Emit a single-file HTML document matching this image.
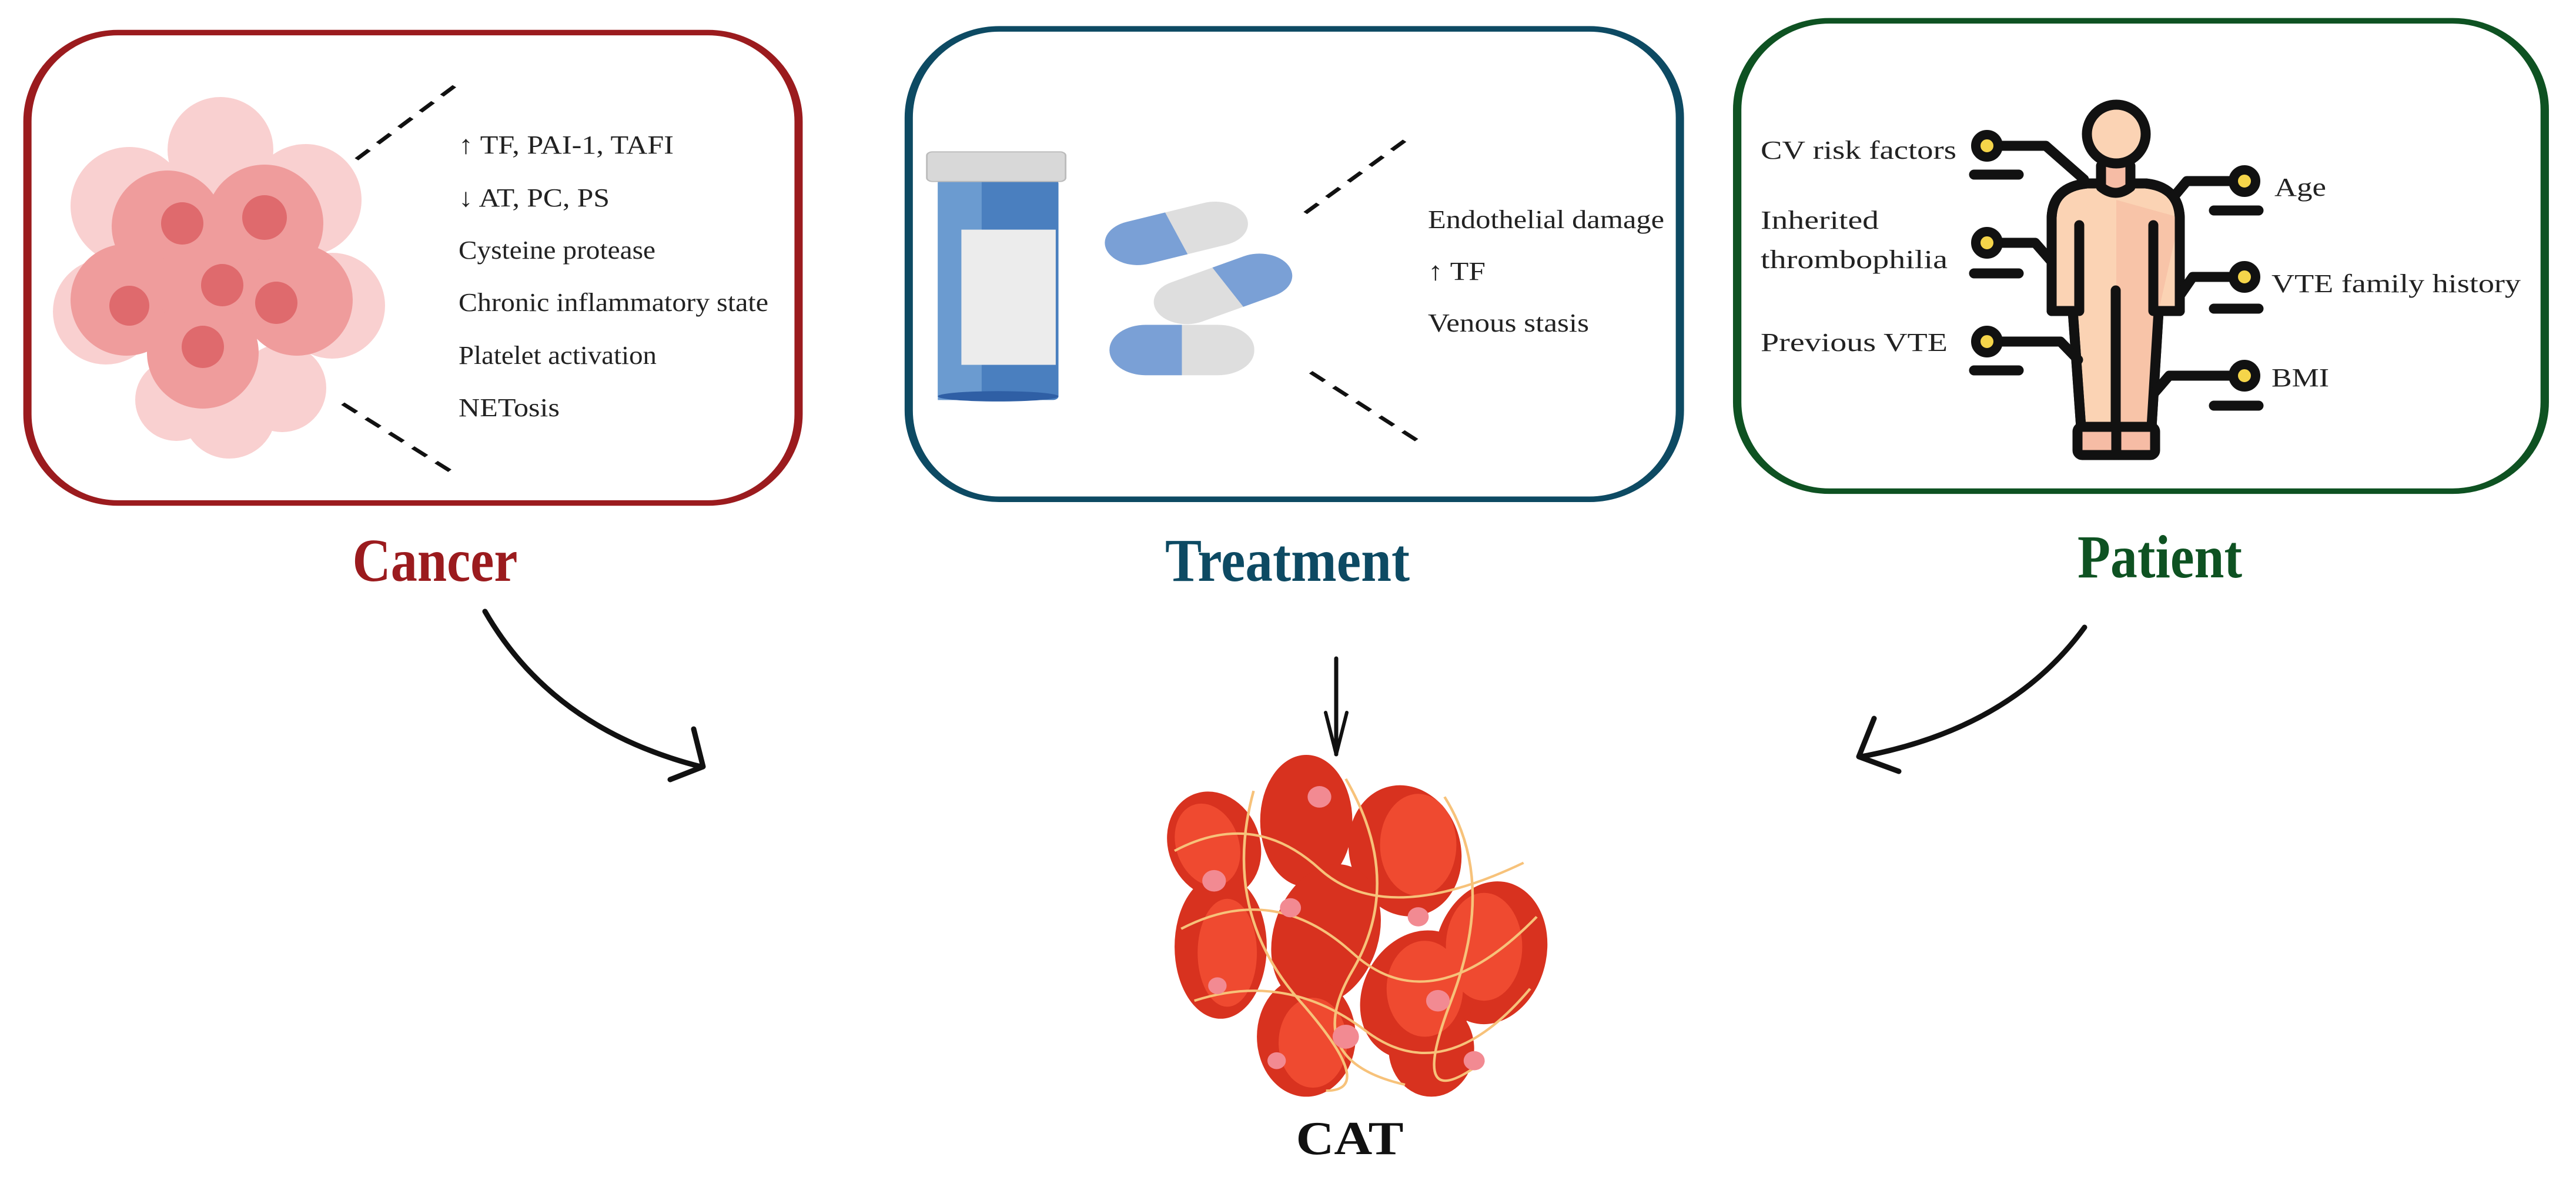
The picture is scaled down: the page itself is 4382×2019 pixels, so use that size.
<!DOCTYPE html>
<html><head><meta charset="utf-8"><style>
html,body{margin:0;padding:0;background:#fff}
svg{display:block}
text{font-family:"Liberation Serif",serif}
</style></head><body>
<svg width="4382" height="2019" viewBox="0 0 4382 2019" xmlns="http://www.w3.org/2000/svg">
<!-- CANCER cells (real coords) -->
<g>
<g fill="#f8c8c8" opacity="0.85">
<circle cx="220" cy="350" r="100"/><circle cx="520" cy="340" r="95"/><circle cx="375" cy="255" r="90"/>
<circle cx="565" cy="520" r="90"/><circle cx="390" cy="700" r="80"/><circle cx="180" cy="530" r="90"/>
<circle cx="300" cy="680" r="70"/><circle cx="480" cy="660" r="75"/>
</g>
<g fill="#ef9c9c">
<circle cx="285" cy="385" r="95"/><circle cx="450" cy="380" r="100"/><circle cx="215" cy="510" r="95"/>
<circle cx="375" cy="490" r="105"/><circle cx="505" cy="510" r="95"/><circle cx="345" cy="600" r="95"/>
</g>
<g fill="#df6a6d"><circle cx="310" cy="380" r="36"/><circle cx="450" cy="370" r="38"/><circle cx="378" cy="485" r="36"/><circle cx="470" cy="515" r="36"/><circle cx="220" cy="520" r="34"/><circle cx="345" cy="590" r="36"/></g>
</g>
<g transform="scale(0.933,0.63)">
<rect x="50" y="88" width="1406" height="1270" rx="165" ry="240" fill="none" stroke="#9b1b1e" stroke-width="15"/>
<g stroke="#111" stroke-width="9" stroke-dasharray="34,24"><line x1="650" y1="430" x2="840" y2="220"/><line x1="625" y1="1090" x2="830" y2="1280"/></g>
</g>
<g font-size="44" fill="#222">
<text x="780" y="261" textLength="366" lengthAdjust="spacingAndGlyphs">↑ TF, PAI-1, TAFI</text>
<text x="780" y="351" textLength="257" lengthAdjust="spacingAndGlyphs">↓ AT, PC, PS</text>
<text x="780" y="440" textLength="335" lengthAdjust="spacingAndGlyphs">Cysteine protease</text>
<text x="780" y="529" textLength="527" lengthAdjust="spacingAndGlyphs">Chronic inflammatory state</text>
<text x="780" y="619" textLength="337" lengthAdjust="spacingAndGlyphs">Platelet activation</text>
<text x="780" y="708" textLength="172" lengthAdjust="spacingAndGlyphs">NETosis</text>
</g>
<text x="740" y="988" font-size="104" font-weight="bold" fill="#9b1b1e" text-anchor="middle" textLength="281" lengthAdjust="spacingAndGlyphs">Cancer</text>
<!-- TREATMENT -->
<g transform="translate(1460,0) scale(0.933,0.63)">
<rect x="92" y="78" width="1406" height="1270" rx="165" ry="240" fill="none" stroke="#0d4a63" stroke-width="15"/>
<rect x="145" y="485" width="220" height="595" rx="10" fill="#4a7fbf"/>
<rect x="145" y="485" width="80" height="595" fill="#6b9bd0"/>
<ellipse cx="255" cy="1070" rx="110" ry="14" fill="#2f5fa5"/>
<rect x="125" y="410" width="253" height="80" rx="10" fill="#d8d8d8" stroke="#bbb" stroke-width="3"/>
<rect x="188" y="620" width="172" height="365" fill="#ececec"/>
<g transform="translate(580,630) rotate(-20)"><rect x="-135" y="-60" width="270" height="120" rx="60" fill="#dedede"/><path d="M0,-60 H-75 A60,60 0 0 0 -75,60 H0Z" fill="#7aa0d6"/></g>
<g transform="translate(665,780) rotate(-28)"><rect x="-135" y="-60" width="270" height="120" rx="60" fill="#dedede"/><path d="M10,-60 H75 A60,60 0 0 1 75,60 H10Z" fill="#7aa0d6"/></g>
<g transform="translate(590,945)"><rect x="-132" y="-68" width="264" height="136" rx="66" fill="#dedede"/><path d="M0,-68 H-66 A66,68 0 0 0 -66,68 H0Z" fill="#7aa0d6"/></g>
<g stroke="#111" stroke-width="9" stroke-dasharray="34,24"><line x1="815" y1="575" x2="1010" y2="365"/><line x1="825" y1="1005" x2="1025" y2="1195"/></g>
</g>
<g font-size="44" fill="#222">
<text x="2429" y="388" textLength="402" lengthAdjust="spacingAndGlyphs">Endothelial damage</text>
<text x="2429" y="476" textLength="98" lengthAdjust="spacingAndGlyphs">↑ TF</text>
<text x="2429" y="564" textLength="274" lengthAdjust="spacingAndGlyphs">Venous stasis</text>
</g>
<text x="2190" y="988" font-size="104" font-weight="bold" fill="#0d4a63" text-anchor="middle" textLength="416" lengthAdjust="spacingAndGlyphs">Treatment</text>
<!-- PATIENT -->
<g transform="translate(2900,0) scale(0.95,0.631)">
<rect x="58" y="56" width="1446" height="1268" rx="165" ry="240" fill="none" stroke="#0e5222" stroke-width="15"/>
</g>
<g stroke="#111" stroke-width="17" stroke-linecap="round" stroke-linejoin="round" fill="none">
<path d="M3490,529 L3490,370 Q3492,318 3550,312 L3650,312 Q3706,318 3708,370 L3708,529 L3672,529 L3660,726 L3540,726 L3526,529 Z" fill="#fbd3b4"/>
<path d="M3672,529 L3660,726 L3600,726 L3600,340 L3708,370Z" fill="#f8c4a8" stroke="none"/>
<path d="M3490,529 L3490,370 Q3492,318 3550,312 L3650,312 Q3706,318 3708,370 L3708,529 L3672,529 L3660,726 L3540,726 L3526,529 Z"/>
<path d="M3574,282 L3574,318 Q3599,338 3624,318 L3624,282" fill="#f6bca5"/>
<circle cx="3600" cy="228" r="50" fill="#fbd3b4"/>
<rect x="3534" y="726" width="132" height="48" rx="8" fill="#f6bca5"/>
<line x1="3600" y1="726" x2="3600" y2="774"/>
<line x1="3599" y1="494" x2="3599" y2="726"/>
<line x1="3537" y1="383" x2="3537" y2="529"/>
<line x1="3663" y1="383" x2="3663" y2="529"/>
<path d="M3380,248 H3480 L3545,305"/><path d="M3380,413 H3462 L3490,445"/><path d="M3380,581 H3505 L3535,612"/>
<path d="M3818,308 H3720 L3700,332"/><path d="M3818,471 H3730 L3710,500"/><path d="M3818,639 H3690 L3665,668"/>
<path d="M3358,297 H3434 M3358,465 H3434 M3358,630 H3434 M3766,358 H3842 M3766,525 H3842 M3766,690 H3842"/>
<g fill="#f5d54a" stroke-width="16"><circle cx="3380" cy="248" r="19"/><circle cx="3380" cy="413" r="19"/><circle cx="3380" cy="581" r="19"/><circle cx="3818" cy="308" r="19"/><circle cx="3818" cy="471" r="19"/><circle cx="3818" cy="639" r="19"/></g>
</g>
<g font-size="44" fill="#222">
<text x="2995" y="270" textLength="333" lengthAdjust="spacingAndGlyphs">CV risk factors</text>
<text x="3869" y="333" textLength="88" lengthAdjust="spacingAndGlyphs">Age</text>
<text x="2995" y="389" textLength="201" lengthAdjust="spacingAndGlyphs">Inherited</text>
<text x="2995" y="456" textLength="318" lengthAdjust="spacingAndGlyphs">thrombophilia</text>
<text x="3864" y="497" textLength="424" lengthAdjust="spacingAndGlyphs">VTE family history</text>
<text x="2995" y="597" textLength="318" lengthAdjust="spacingAndGlyphs">Previous VTE</text>
<text x="3864" y="657" textLength="98" lengthAdjust="spacingAndGlyphs">BMI</text>
</g>
<text x="3674" y="982" font-size="104" font-weight="bold" fill="#0e5222" text-anchor="middle" textLength="280" lengthAdjust="spacingAndGlyphs">Patient</text>
<!-- ARROWS -->
<g fill="none" stroke="#111" stroke-linecap="round">
<path d="M825,1040 Q940,1240 1192,1304" stroke-width="9"/>
<path d="M1196,1304 L1180,1240 M1196,1304 L1140,1326" stroke-width="9"/>
<path d="M2273,1120 L2273,1283" stroke-width="7"/>
<path d="M2273,1283 L2255,1212 M2273,1283 L2291,1212" stroke-width="6"/>
<path d="M3546,1067 Q3420,1240 3166,1287" stroke-width="9"/>
<path d="M3162,1287 L3188,1222 M3162,1287 L3230,1312" stroke-width="9"/>
</g>
<!-- CLOT -->
<g transform="translate(2296,1590) scale(1.12,1.02) translate(-2296,-1590)">
<g fill="#d8321f">
<ellipse cx="2090" cy="1440" rx="70" ry="90" transform="rotate(-15 2090 1440)"/>
<ellipse cx="2230" cy="1400" rx="70" ry="110"/>
<ellipse cx="2380" cy="1450" rx="85" ry="110" transform="rotate(-10 2380 1450)"/>
<ellipse cx="2100" cy="1610" rx="70" ry="120"/>
<ellipse cx="2260" cy="1590" rx="80" ry="120" transform="rotate(15 2260 1590)"/>
<ellipse cx="2510" cy="1620" rx="85" ry="120" transform="rotate(10 2510 1620)"/>
<ellipse cx="2400" cy="1690" rx="85" ry="110" transform="rotate(20 2400 1690)"/>
<ellipse cx="2230" cy="1760" rx="75" ry="100"/>
<ellipse cx="2420" cy="1780" rx="65" ry="80"/>
</g>
<g fill="#ef4a30">
<ellipse cx="2080" cy="1440" rx="48" ry="70" transform="rotate(-15 2080 1440)"/>
<ellipse cx="2400" cy="1440" rx="58" ry="85"/>
<ellipse cx="2500" cy="1610" rx="58" ry="90"/>
<ellipse cx="2110" cy="1620" rx="45" ry="90"/>
<ellipse cx="2240" cy="1770" rx="52" ry="75"/>
<ellipse cx="2410" cy="1680" rx="58" ry="80"/>
</g>
<g fill="none" stroke="#f7c27a" stroke-width="4">
<path d="M2030,1450 Q2150,1380 2250,1480 T2560,1470"/>
<path d="M2040,1580 Q2180,1500 2300,1620 T2580,1560"/>
<path d="M2060,1700 Q2200,1650 2320,1750 T2570,1680"/>
<path d="M2150,1350 Q2100,1550 2220,1700 T2260,1850"/>
<path d="M2290,1330 Q2380,1500 2300,1650 T2380,1840"/>
<path d="M2440,1360 Q2520,1500 2450,1700 T2500,1800"/>
</g>
<g fill="#f28a92"><circle cx="2250" cy="1360" r="18"/><circle cx="2090" cy="1500" r="18"/><circle cx="2206" cy="1545" r="16"/><circle cx="2400" cy="1560" r="16"/><circle cx="2095" cy="1675" r="14"/><circle cx="2430" cy="1700" r="18"/><circle cx="2290" cy="1760" r="20"/><circle cx="2185" cy="1800" r="14"/><circle cx="2485" cy="1800" r="16"/></g>
</g>
<text x="2296" y="1963" font-size="80" font-weight="bold" fill="#111" text-anchor="middle" textLength="183" lengthAdjust="spacingAndGlyphs">CAT</text>
</svg>
</body></html>
